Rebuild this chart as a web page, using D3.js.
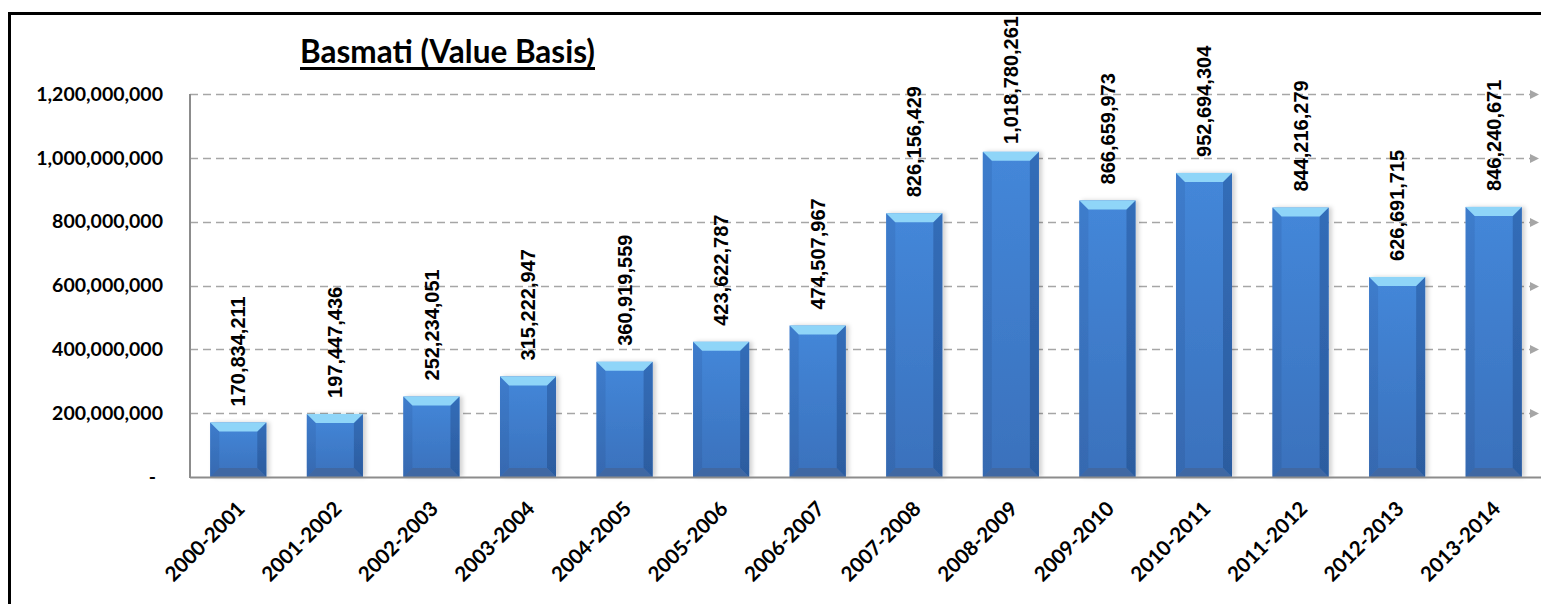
<!DOCTYPE html>
<html>
<head>
<meta charset="utf-8">
<script src="https://cdn.jsdelivr.net/npm/d3@7"></script>
<style>
  html, body { margin: 0; padding: 0; background: #fff; overflow: hidden; }
  svg { display: block; }
  .tick-label { font-family: Lato, "Open Sans", sans-serif; font-weight: 700; fill: #000; }
  .value-label { font-family: "Liberation Sans", Arial, sans-serif; font-weight: 700; fill: #000; }
</style>
</head>
<body>
<svg id="chart" width="1541" height="604"></svg>
<script>
const years = [
  '2000-2001', '2001-2002', '2002-2003', '2003-2004', '2004-2005',
  '2005-2006', '2006-2007', '2007-2008', '2008-2009', '2009-2010',
  '2010-2011', '2011-2012', '2012-2013', '2013-2014'
];
const values = [
  170834211, 197447436, 252234051, 315222947, 360919559,
  423622787, 474507967, 826156429, 1018780261, 866659973,
  952694304, 844216279, 626691715, 846240671
];
const yTicks = [0, 200000000, 400000000, 600000000, 800000000, 1000000000, 1200000000];
const title = 'Basmati (Value Basis)';

const svg = d3.select('#chart');
const width = 1541;
const height = 604;

const plot = { left: 190, right: 1542, top: 94, bottom: 477, gridEnd: 1530 };

const x = d3.scaleBand().domain(years).range([plot.left, plot.right])
  .paddingInner(0.42).paddingOuter(0.21);
const y = d3.scaleLinear().domain([0, 1200000000]).range([plot.bottom, plot.top]);

const fmt = d3.format(',');

// defs: gradients, arrow, shadow
const defs = svg.append('defs');
const body = defs.append('linearGradient').attr('id', 'bodyGrad')
  .attr('x1', 0).attr('y1', 0).attr('x2', 0).attr('y2', 1);
body.append('stop').attr('offset', '0%').attr('stop-color', '#4487d9');
body.append('stop').attr('offset', '100%').attr('stop-color', '#3a71bc');
const left = defs.append('linearGradient').attr('id', 'leftGrad')
  .attr('x1', 0).attr('y1', 0).attr('x2', 0).attr('y2', 1);
left.append('stop').attr('offset', '0%').attr('stop-color', '#3d7ccc');
left.append('stop').attr('offset', '100%').attr('stop-color', '#3669b0');
const right = defs.append('linearGradient').attr('id', 'rightGrad')
  .attr('x1', 0).attr('y1', 0).attr('x2', 0).attr('y2', 1);
right.append('stop').attr('offset', '0%').attr('stop-color', '#336db8');
right.append('stop').attr('offset', '100%').attr('stop-color', '#2c5c9f');

defs.append('marker').attr('id', 'arrow')
  .attr('viewBox', '0 0 10 10').attr('refX', 0).attr('refY', 5)
  .attr('markerWidth', 9).attr('markerHeight', 9).attr('markerUnits', 'userSpaceOnUse')
  .attr('orient', 'auto')
  .append('path').attr('d', 'M0,0L10,5L0,10Z').attr('fill', '#a6a6a6');

const shadow = defs.append('filter').attr('id', 'shadow')
  .attr('x', '-20%').attr('y', '-10%').attr('width', '150%').attr('height', '120%');
shadow.append('feDropShadow').attr('dx', 3).attr('dy', 0).attr('stdDeviation', 2)
  .attr('flood-color', '#000').attr('flood-opacity', 0.18);

// outer chart border (right and bottom edges fall outside the picture)
svg.append('rect')
  .attr('x', 9.5).attr('y', 13.5).attr('width', width + 20).attr('height', height + 20)
  .attr('fill', 'none').attr('stroke', '#000').attr('stroke-width', 3);

// gridlines
svg.append('g').selectAll('line')
  .data(yTicks.filter(d => d > 0))
  .join('line')
  .attr('x1', plot.left).attr('x2', plot.gridEnd)
  .attr('y1', d => Math.round(y(d)) + 0.5).attr('y2', d => Math.round(y(d)) + 0.5)
  .attr('stroke', '#a6a6a6').attr('stroke-width', 1.5)
  .attr('stroke-dasharray', '8,5')
  .attr('marker-end', 'url(#arrow)');

// y axis labels
svg.append('g').selectAll('text')
  .data(yTicks)
  .join('text')
  .attr('class', 'tick-label')
  .attr('x', d => d === 0 ? 156 : 163)
  .attr('y', d => y(d))
  .attr('dy', '0.35em')
  .attr('text-anchor', 'end')
  .attr('font-size', 19.5)
  .text(d => d === 0 ? '-' : fmt(d));

// bars with bevel
const bev = 9;
const bars = svg.append('g').selectAll('g')
  .data(years.map((yr, i) => ({ yr, v: values[i] })))
  .join('g')
  .attr('filter', 'url(#shadow)');

bars.each(function (d) {
  const g = d3.select(this);
  const x0 = x(d.yr);
  const x1 = x0 + x.bandwidth();
  const y0 = y(d.v);
  const y1 = y(0);
  const pts = a => a.map(p => p.join(',')).join(' ');
  g.append('rect').attr('x', x0).attr('y', y0).attr('width', x1 - x0).attr('height', y1 - y0)
    .attr('fill', 'url(#bodyGrad)');
  // left face
  g.append('polygon').attr('points', pts([[x0, y0], [x0 + bev, y0 + bev], [x0 + bev, y1 - bev], [x0, y1]]))
    .attr('fill', 'url(#leftGrad)');
  // right face
  g.append('polygon').attr('points', pts([[x1, y0], [x1 - bev, y0 + bev], [x1 - bev, y1 - bev], [x1, y1]]))
    .attr('fill', 'url(#rightGrad)');
  // bottom face
  g.append('polygon').attr('points', pts([[x0, y1], [x0 + bev, y1 - bev], [x1 - bev, y1 - bev], [x1, y1]]))
    .attr('fill', '#4068a3');
  // top face
  g.append('polygon').attr('points', pts([[x0, y0], [x1, y0], [x1 - bev, y0 + bev], [x0 + bev, y0 + bev]]))
    .attr('fill', '#8fd5f8');
});

// axes lines
svg.append('line')
  .attr('x1', plot.left).attr('x2', width)
  .attr('y1', plot.bottom + 0.5).attr('y2', plot.bottom + 0.5)
  .attr('stroke', '#8c8c8c').attr('stroke-width', 2);
svg.append('line')
  .attr('x1', plot.left).attr('x2', plot.left)
  .attr('y1', plot.top).attr('y2', plot.bottom + 1)
  .attr('stroke', '#8c8c8c').attr('stroke-width', 2);

// value labels, rotated; kept inside chart area like Excel does
svg.append('g').selectAll('text')
  .data(years.map((yr, i) => ({ yr, v: values[i] })))
  .join('text')
  .attr('class', 'value-label')
  .attr('font-size', 20)
  .attr('text-anchor', 'start')
  .attr('dy', '0.36em')
  .text(d => fmt(d.v))
  .each(function (d) {
    const len = this.getComputedTextLength();
    let start = y(d.v) - 16;
    if (start - len < 16) start = 16 + len;
    const cx = x(d.yr) + x.bandwidth() / 2;
    d3.select(this).attr('transform', `translate(${cx},${start}) rotate(-90)`);
  });

// category labels
svg.append('g').selectAll('text')
  .data(years)
  .join('text')
  .attr('class', 'tick-label')
  .attr('font-size', 20.5)
  .attr('text-anchor', 'end')
  .attr('transform', d => `translate(${x(d) + x.bandwidth() / 2 + 8},${plot.bottom + 33}) rotate(-45)`)
  .text(d => d);

// title, with a heavier underline drawn under it
const titleText = svg.append('text')
  .attr('class', 'tick-label')
  .attr('x', 300).attr('y', 63)
  .attr('font-size', 31.5)
  .text(title);
const tw = titleText.node().getComputedTextLength();
svg.append('line')
  .attr('x1', 300).attr('x2', 300 + tw)
  .attr('y1', 68.5).attr('y2', 68.5)
  .attr('stroke', '#000').attr('stroke-width', 3);
</script>
</body>
</html>
